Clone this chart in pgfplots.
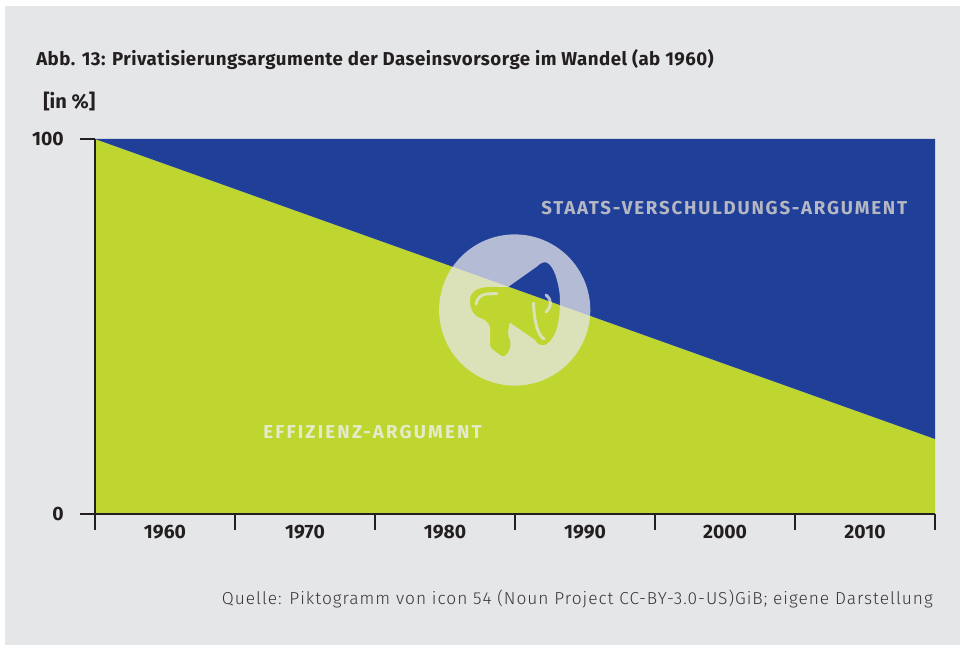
\documentclass[border=0pt]{standalone}
\usepackage{fontspec}
\usepackage{pgfplots}
\pgfplotsset{compat=1.18}
\setmainfont{Fira Sans}
\newfontfamily\titlefont[LetterSpace=2.5]{Fira Sans}
\newfontfamily\staatsfont[LetterSpace=9.6]{Fira Sans}
\newfontfamily\effifont[LetterSpace=11.7]{Fira Sans}
\newfontfamily\srcfont[LetterSpace=5.6]{Fira Sans Light}
\definecolor{panel}{HTML}{E5E6E8}
\definecolor{ink}{HTML}{231F20}
\definecolor{blueA}{HTML}{203F99}
\definecolor{greenA}{HTML}{BED62F}
\definecolor{lblBlue}{HTML}{B5B8C2}
\definecolor{lblGreen}{HTML}{E6EAC8}
\begin{document}
\begin{tikzpicture}[x=0.75pt,y=-0.75pt]
\fill[white] (0,0) rectangle (960,645);
\fill[panel] (5,6) rectangle (960,645);
\coordinate (o) at (95,514);
\begin{axis}[
  at={(o)}, anchor=origin, scale only axis, width=630pt, height=281.25pt,
  xmin=1955, xmax=2015, ymin=0, ymax=100,
  axis lines=left, axis line style={-, ink, line width=1.9pt},
  clip=false, axis on top,
  xtick={1960,1970,1980,1990,2000,2010},
  xticklabels={1960,1970,1980,1990,2000,2010},
  minor xtick={1955,1965,1975,1985,1995,2005,2015},
  ytick={0,100}, yticklabels={0,100},
  tick align=outside,
  major tick length=0pt,
  minor tick length=12pt,
  every minor tick/.style={ink, line width=1.9pt},
  every major tick/.style={ink, line width=1.9pt},
  extra y ticks={0,100}, extra y tick labels={},
  extra y tick style={major tick length=11.5pt, tick style={ink, line width=1.9pt}},
  xticklabel style={font=\fontsize{14.5}{16}\bfseries, text=ink, yshift=-5pt},
  yticklabel style={font=\fontsize{14.5}{16}\bfseries, text=ink, xshift=-20pt},
]
\addplot[draw=none, fill=greenA] coordinates {(1955,0) (1955,100) (2015,20) (2015,0)} -- cycle;
\addplot[draw=none, fill=blueA] coordinates {(1955,100) (2015,100) (2015,20)} -- cycle;
\end{axis}
% circle with megaphone cut out
\def\mega{
 (536.7,266.7) .. controls (541,262) and (546,261) .. (549,264)
 .. controls (556,270) and (560,290) .. (560,300)
 .. controls (560,325) and (555,340) .. (545,345)
 .. controls (540,346) and (537,344) .. (535,340)
 -- (510,322.7) .. controls (508,330) and (507,335) .. (510,340)
 .. controls (512,348) and (508,354) .. (504.5,356)
 .. controls (502,357) and (500,355) .. (492,349)
 .. controls (490,347) and (490,345) .. (490,343)
 -- (490,327) .. controls (488,322) and (484,319) .. (480,318)
 .. controls (472,315) and (470,308) .. (470,300)
 .. controls (470,292) and (476,288) .. (487,287)
 -- (508,287) -- cycle}
\fill[panel, opacity=0.75, even odd rule] (514.7,310) circle[radius=75.6] \mega;
\begin{scope}[panel, opacity=0.75, line width=2.2pt, line cap=round]
\draw (497,293.5) -- (486,294) .. controls (480,295) and (477,299) .. (476,304);
\draw (533.5,303) .. controls (534,318) and (537,335) .. (544,339);
\draw (546,295) .. controls (552,300) and (552,306) .. (546,312);
\end{scope}
\node[anchor=base west, inner sep=0, text=ink, font=\fontsize{14}{16}\titlefont\bfseries] at (36,65.5) {Abb. 13: Privatisierungsargumente der Daseinsvorsorge im Wandel (ab 1960)};
\node[anchor=base west, inner sep=0, text=ink, font=\fontsize{15}{17}\bfseries] at (43,109) {[in \%]};
\node[anchor=base east, inner sep=0, text=ink!90, font=\fontsize{13}{15}\srcfont] at (933,604) {Quelle: Piktogramm von icon 54 (Noun Project CC-BY-3.0-US)GiB; eigene Darstellung};
\node[anchor=base west, inner sep=0, text=lblBlue, font=\fontsize{14}{16}\staatsfont\bfseries] at (541,215) {STAATS-VERSCHULDUNGS-ARGUMENT};
\node[anchor=base west, inner sep=0, text=lblGreen, font=\fontsize{14}{16}\effifont\bfseries] at (263,438) {EFFIZIENZ-ARGUMENT};
\end{tikzpicture}
\end{document}
